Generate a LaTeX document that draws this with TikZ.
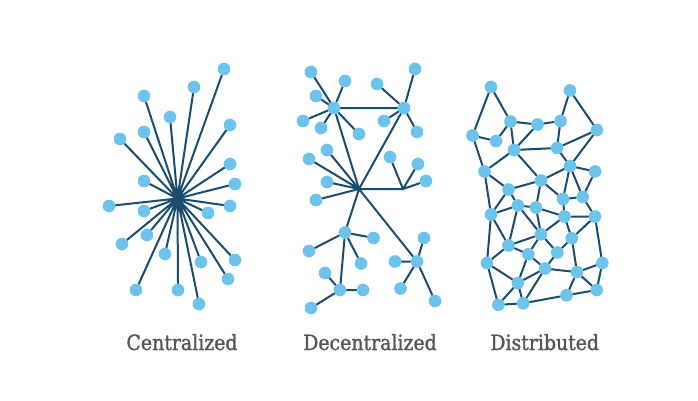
\documentclass[tikz,border=0pt]{standalone}
\usepackage{fontspec}
\usepackage{tikz}
\usetikzlibrary{backgrounds}
\newfontfamily\labelfont{DejaVu Serif}[FakeStretch=0.9, FakeBold=1.2]
\definecolor{linkblue}{RGB}{27,76,110}
\definecolor{dotblue}{RGB}{108,196,236}
\definecolor{labelgray}{RGB}{85,85,85}
\tikzset{
  dot/.style={circle, fill=dotblue, inner sep=0pt, minimum size=9.5},
  link/.style={color=linkblue, line width=1.5pt, line cap=round, line join=round},
  caption/.style={anchor=base, text=labelgray, font=\labelfont\fontsize{15.75}{18}\selectfont}
}
\begin{document}
\begin{tikzpicture}[x=0.75pt, y=-0.75pt]
\useasboundingbox (0,0) rectangle (698,400);
% centralized
\coordinate (cc) at (177.5,198.5);
\node[dot] (c1) at (224,69) {};
\node[dot] (c2) at (194,87) {};
\node[dot] (c3) at (144,96) {};
\node[dot] (c4) at (170,117) {};
\node[dot] (c5) at (230,125) {};
\node[dot] (c6) at (144,132) {};
\node[dot] (c7) at (120,139) {};
\node[dot] (c8) at (230,164) {};
\node[dot] (c9) at (144,181) {};
\node[dot] (c10) at (235,184) {};
\node[dot] (c11) at (109,206) {};
\node[dot] (c12) at (230,206) {};
\node[dot] (c13) at (144,211) {};
\node[dot] (c14) at (208,213) {};
\node[dot] (c15) at (147,235) {};
\node[dot] (c16) at (122,244) {};
\node[dot] (c17) at (165,254) {};
\node[dot] (c18) at (201,262) {};
\node[dot] (c19) at (235,260) {};
\node[dot] (c20) at (228,279) {};
\node[dot] (c21) at (136,290) {};
\node[dot] (c22) at (178,290) {};
\node[dot] (c23) at (199,304) {};
% decentralized
\node[dot] (da) at (334,108) {};
\node[dot] (db) at (404,108) {};
\coordinate (dc) at (359,189);
\coordinate (dd) at (403,189);
\node[dot] (de) at (345,232.5) {};
\node[dot] (df) at (340,290) {};
\node[dot] (dg) at (417,261.5) {};
\node[dot] (a1) at (311,72) {};
\node[dot] (a2) at (345,81) {};
\node[dot] (a3) at (316,96) {};
\node[dot] (a4) at (303,121) {};
\node[dot] (a5) at (321,128) {};
\node[dot] (a6) at (359,134) {};
\node[dot] (b1) at (415,69) {};
\node[dot] (b2) at (377,84) {};
\node[dot] (b3) at (384,121) {};
\node[dot] (b4) at (417,132) {};
\node[dot] (k1) at (327,150) {};
\node[dot] (k2) at (309,159) {};
\node[dot] (k3) at (327,182) {};
\node[dot] (k4) at (316,200) {};
\node[dot] (d1) at (390,157) {};
\node[dot] (d2) at (418,164) {};
\node[dot] (d3) at (426,181) {};
\node[dot] (e1) at (373.5,238) {};
\node[dot] (e2) at (309,251) {};
\node[dot] (e3) at (361,263.5) {};
\node[dot] (f1) at (325,273) {};
\node[dot] (f2) at (363,290) {};
\node[dot] (f3) at (311,308) {};
\node[dot] (g1) at (424,238) {};
\node[dot] (g2) at (395,261.5) {};
\node[dot] (g3) at (400.5,288.5) {};
\node[dot] (g4) at (435,301) {};
% distributed
\node[dot] (n1) at (491,87) {};
\node[dot] (n2) at (570,90.5) {};
\node[dot] (n3) at (510.5,121.5) {};
\node[dot] (n4) at (537.5,124.5) {};
\node[dot] (n5) at (560.5,121) {};
\node[dot] (n6) at (472.5,135.5) {};
\node[dot] (n7) at (496,141) {};
\node[dot] (n8) at (597,130) {};
\node[dot] (n9) at (514,150) {};
\node[dot] (n10) at (557,148) {};
\node[dot] (n11) at (484.5,171.5) {};
\node[dot] (n12) at (570,166) {};
\node[dot] (n13) at (595,171.5) {};
\node[dot] (n14) at (541,180.5) {};
\node[dot] (n15) at (508.5,189.5) {};
\node[dot] (n16) at (563,199) {};
\node[dot] (n17) at (582.7,197) {};
\node[dot] (n18) at (518,205.5) {};
\node[dot] (n19) at (536,207.5) {};
\node[dot] (n20) at (491,214.5) {};
\node[dot] (n21) at (564.5,216.5) {};
\node[dot] (n22) at (595,216.5) {};
\node[dot] (n23) at (541,234.3) {};
\node[dot] (n24) at (571.8,238.3) {};
\node[dot] (n25) at (508.5,245.5) {};
\node[dot] (n26) at (528.3,254.3) {};
\node[dot] (n27) at (557.3,252.5) {};
\node[dot] (n28) at (487,263) {};
\node[dot] (n29) at (602.3,263) {};
\node[dot] (n30) at (545,268.5) {};
\node[dot] (n31) at (577,272.2) {};
\node[dot] (n32) at (517.8,283) {};
\node[dot] (n33) at (596.7,290) {};
\node[dot] (n34) at (566.5,295.3) {};
\node[dot] (n35) at (498.3,304.8) {};
\node[dot] (n36) at (523.2,303.3) {};
\begin{scope}[on background layer]
\draw [link] (cc) -- (c1) (cc) -- (c2) (cc) -- (c3) (cc) -- (c4) (cc) -- (c5) (cc) -- (c6)
  (cc) -- (c7) (cc) -- (c8) (cc) -- (c9) (cc) -- (c10) (cc) -- (c11) (cc) -- (c12)
  (cc) -- (c13) (cc) -- (c14) (cc) -- (c15) (cc) -- (c16) (cc) -- (c17) (cc) -- (c18)
  (cc) -- (c19) (cc) -- (c20) (cc) -- (c21) (cc) -- (c22) (cc) -- (c23);
\draw [link] (da) -- (db) (da) -- (dc) (db) -- (dc) (dc) -- (dd) (dc) -- (de) (dc) -- (dg) (de) -- (df);
\draw [link] (da) -- (a1) (da) -- (a2) (da) -- (a3) (da) -- (a4) (da) -- (a5) (da) -- (a6);
\draw [link] (db) -- (b1) (db) -- (b2) (db) -- (b3) (db) -- (b4);
\draw [link] (dc) -- (k1) (dc) -- (k2) (dc) -- (k3) (dc) -- (k4);
\draw [link] (dd) -- (d1) (dd) -- (d2) (dd) -- (d3);
\draw [link] (de) -- (e1) (de) -- (e2) (de) -- (e3);
\draw [link] (df) -- (f1) (df) -- (f2) (df) -- (f3);
\draw [link] (dg) -- (g1) (dg) -- (g2) (dg) -- (g3) (dg) -- (g4);
\draw [link] (n1) -- (n6) (n1) -- (n3) (n6) -- (n7) (n7) -- (n3) (n6) -- (n11) (n3) -- (n4)
  (n4) -- (n5) (n3) -- (n9) (n4) -- (n9) (n5) -- (n10) (n2) -- (n5) (n2) -- (n8)
  (n8) -- (n10) (n8) -- (n12) (n9) -- (n10) (n9) -- (n11) (n9) -- (n14) (n10) -- (n12)
  (n12) -- (n14) (n12) -- (n13) (n12) -- (n16) (n12) -- (n17) (n13) -- (n17) (n16) -- (n17)
  (n11) -- (n15) (n11) -- (n20) (n14) -- (n15) (n14) -- (n19) (n14) -- (n16) (n15) -- (n18)
  (n15) -- (n20) (n18) -- (n19) (n18) -- (n20) (n16) -- (n21) (n17) -- (n22) (n19) -- (n21)
  (n21) -- (n22) (n18) -- (n25) (n18) -- (n23) (n19) -- (n23) (n21) -- (n23) (n21) -- (n24)
  (n22) -- (n24) (n20) -- (n25) (n20) -- (n28) (n23) -- (n25) (n23) -- (n26) (n23) -- (n27)
  (n24) -- (n27) (n22) -- (n29) (n24) -- (n31) (n25) -- (n26) (n25) -- (n28) (n26) -- (n30)
  (n27) -- (n30) (n26) -- (n32) (n28) -- (n32) (n28) -- (n35) (n30) -- (n32) (n30) -- (n31)
  (n30) -- (n36) (n31) -- (n29) (n31) -- (n33) (n31) -- (n34) (n29) -- (n33) (n33) -- (n34)
  (n34) -- (n36) (n32) -- (n35) (n32) -- (n36) (n35) -- (n36);
\end{scope}
\node[caption] (centralized) at (182,350) {Centralized};
\node[caption] (decentralized) at (370,350) {Decentralized};
\node[caption] (distributed) at (544.7,350) {Distributed};
\end{tikzpicture}
\end{document}
